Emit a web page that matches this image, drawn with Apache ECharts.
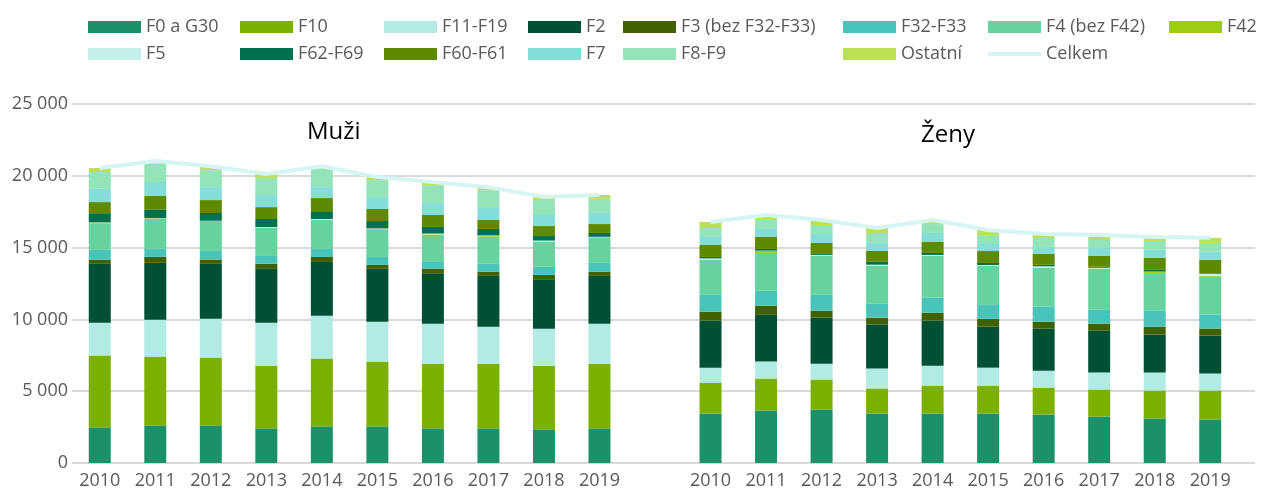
<!DOCTYPE html>
<html lang="cs">
<head>
<meta charset="utf-8">
<title>Muži a ženy podle diagnóz</title>
<script src="https://cdn.jsdelivr.net/npm/echarts@6.0.0/dist/echarts.min.js"></script>
<style>
  html, body { margin: 0; padding: 0; background: #fff; }
  #main { width: 1282px; height: 492px; }
</style>
</head>
<body>
<div id="main"></div>
<script>
// roky na ose x, mezi muži a ženami je jedna prázdná kategorie
const years = ['2010', '2011', '2012', '2013', '2014', '2015', '2016', '2017', '2018', '2019']
const groups = ['Muži', 'Ženy']

// hodnoty: nejdřív Muži 2010-2019, potom Ženy 2010-2019
const f0G30 = [2480, 2620, 2620, 2410, 2550, 2550, 2410, 2410, 2340, 2410, 3450, 3660, 3730, 3450, 3450, 3450, 3380, 3240, 3100, 3030]
const f10 = [5000, 4790, 4720, 4370, 4720, 4510, 4510, 4510, 4440, 4510, 2150, 2220, 2080, 1740, 1940, 1940, 1870, 1880, 1950, 2020]
const f11f19 = [2290, 2570, 2710, 2990, 2980, 2780, 2780, 2570, 2570, 2780, 1040, 1180, 1110, 1390, 1390, 1250, 1180, 1180, 1250, 1180]
const f2 = [4100, 3960, 3820, 3750, 3750, 3680, 3470, 3540, 3400, 3330, 3270, 3260, 3200, 3060, 3130, 2850, 2920, 2910, 2640, 2640]
const f3 = [280, 420, 270, 350, 350, 280, 350, 280, 350, 280, 620, 630, 480, 480, 550, 550, 490, 490, 550, 490]
const f32f33 = [690, 560, 630, 550, 560, 550, 480, 560, 560, 630, 1180, 1040, 1110, 970, 1040, 970, 1040, 970, 1110, 970]
const f4 = [1830, 2080, 2010, 1950, 2010, 1900, 1900, 1890, 1760, 1730, 2430, 2640, 2710, 2640, 2920, 2710, 2710, 2870, 2640, 2640]
const f42 = [70, 30, 70, 10, 10, 70, 30, 70, 10, 50, 20, 140, 10, 10, 10, 10, 10, 10, 70, 70]
const f5 = [20, 20, 20, 50, 60, 20, 50, 20, 60, 30, 90, 20, 60, 70, 60, 60, 100, 50, 20, 120]
const f62f69 = [580, 580, 540, 560, 490, 510, 460, 450, 320, 270, 100, 120, 70, 200, 140, 140, 100, 60, 120, 20]
const f60f61 = [830, 970, 900, 830, 970, 840, 830, 620, 690, 620, 830, 830, 760, 760, 760, 830, 760, 760, 830, 970]
const f7 = [930, 970, 900, 840, 760, 830, 830, 900, 840, 770, 560, 560, 630, 560, 630, 490, 490, 560, 560, 560]
const f8f9 = [1160, 1270, 1180, 1180, 1320, 1180, 1250, 1180, 970, 990, 620, 690, 620, 620, 620, 620, 620, 550, 620, 620]
const ostatni = [280, 190, 280, 280, 140, 210, 210, 210, 210, 260, 420, 280, 350, 420, 280, 350, 280, 350, 280, 350]
const celkem = [20540, 21030, 20670, 20120, 20670, 19910, 19560, 19210, 18520, 18660, 16780, 17270, 16920, 16370, 16920, 16220, 15950, 15880, 15740, 15680]

const barSeries = [
  { name: 'F0 a G30', color: '#1b916a', values: f0G30 },
  { name: 'F10', color: '#7bb000', values: f10 },
  { name: 'F11-F19', color: '#b2ebe4', values: f11f19 },
  { name: 'F2', color: '#005036', values: f2 },
  { name: 'F3 (bez F32-F33)', color: '#416100', values: f3 },
  { name: 'F32-F33', color: '#48c4bb', values: f32f33 },
  { name: 'F4 (bez F42)', color: '#66d29e', values: f4 },
  { name: 'F42', color: '#9ccd10', values: f42 },
  { name: 'F5', color: '#c3f0eb', values: f5 },
  { name: 'F62-F69', color: '#007050', values: f62f69 },
  { name: 'F60-F61', color: '#5f8a00', values: f60f61 },
  { name: 'F7', color: '#84ddd6', values: f7 },
  { name: 'F8-F9', color: '#94e4b9', values: f8f9 },
  { name: 'Ostatní', color: '#bbdf55', values: ostatni }
]

// kategorie: 10 let mužů, mezera, 10 let žen
const categories = [
  ...years.map(y => groups[0] + ' ' + y),
  '',
  ...years.map(y => groups[1] + ' ' + y)
]
// vloží prázdné místo mezi obě skupiny
const withGap = arr => [...arr.slice(0, 10), '-', ...arr.slice(10)]

const textColor = '#595959'
const font = 'Open Sans'
const gridColor = '#d9d9d9'

// sloupce legendy (levý okraj ikony)
const legendColumns = [
  { left: 88, data: ['F0 a G30', 'F5'] },
  { left: 240, data: ['F10', 'F62-F69'] },
  { left: 384, data: ['F11-F19', 'F60-F61'] },
  { left: 528, data: ['F2', 'F7'] },
  { left: 623, data: ['F3 (bez F32-F33)', 'F8-F9'] },
  { left: 843, data: ['F32-F33', 'Ostatní'] },
  { left: 988, data: ['F4 (bez F42)', { name: 'Celkem', icon: 'path://M0,0H53V4H0Z' }] },
  { left: 1169, data: ['F42'] }
]

const chart = echarts.init(document.getElementById('main'), null, { renderer: 'canvas' })

const option = {
  animation: false,
  legend: legendColumns.map(col => ({
    orient: 'vertical',
    left: col.left,
    top: 17,
    padding: 0,
    itemGap: 7,
    itemWidth: 53,
    itemHeight: 12,
    icon: 'rect',
    selectedMode: false,
    textStyle: { color: textColor, fontFamily: font, fontSize: 18, lineHeight: 20 },
    data: col.data
  })),
  graphic: [
    { type: 'text', left: 307, top: 120, style: { text: 'Muži', fontFamily: font, fontSize: 24, fill: '#000' } },
    { type: 'text', left: 921, top: 123, style: { text: 'Ženy', fontFamily: font, fontSize: 24, fill: '#000' } }
  ],
  grid: [
    // mřížka a popisky osy y (o kousek širší než sloupce)
    { left: 72, right: 27, top: 104, bottom: 29 },
    // sloupce
    { left: 72, width: 1166, top: 104, bottom: 29 }
  ],
  xAxis: [
    { gridIndex: 0, type: 'value', min: 0, max: 1, show: false },
    {
      gridIndex: 1,
      type: 'category',
      data: categories,
      axisLine: { show: false },
      axisTick: { show: false },
      axisLabel: {
        color: textColor,
        fontFamily: font,
        fontSize: 18,
        margin: 9,
        interval: 0,
        formatter: v => v.slice(-4)
      }
    }
  ],
  yAxis: [
    {
      gridIndex: 0,
      type: 'value',
      min: 0,
      max: 25000,
      interval: 5000,
      axisLine: { show: false },
      axisTick: { show: false },
      splitLine: { lineStyle: { color: gridColor, width: 2 } },
      axisLabel: {
        color: textColor,
        fontFamily: font,
        fontSize: 18,
        margin: 4,
        formatter: v => String(v).replace(/\B(?=(\d{3})+(?!\d))/g, ' ')
      }
    },
    { gridIndex: 1, type: 'value', min: 0, max: 25000, show: false }
  ],
  series: [
    ...barSeries.map(s => ({
      name: s.name,
      type: 'bar',
      stack: 'celkem',
      xAxisIndex: 1,
      yAxisIndex: 1,
      barWidth: 22,
      itemStyle: { color: s.color },
      data: withGap(s.values)
    })),
    {
      name: 'Celkem',
      type: 'line',
      xAxisIndex: 1,
      yAxisIndex: 1,
      symbol: 'none',
      z: 5,
      itemStyle: { color: '#d4f5f3' },
      lineStyle: { color: '#d4f5f3', width: 4 },
      data: withGap(celkem)
    }
  ]
}

option && chart.setOption(option)
</script>
</body>
</html>
